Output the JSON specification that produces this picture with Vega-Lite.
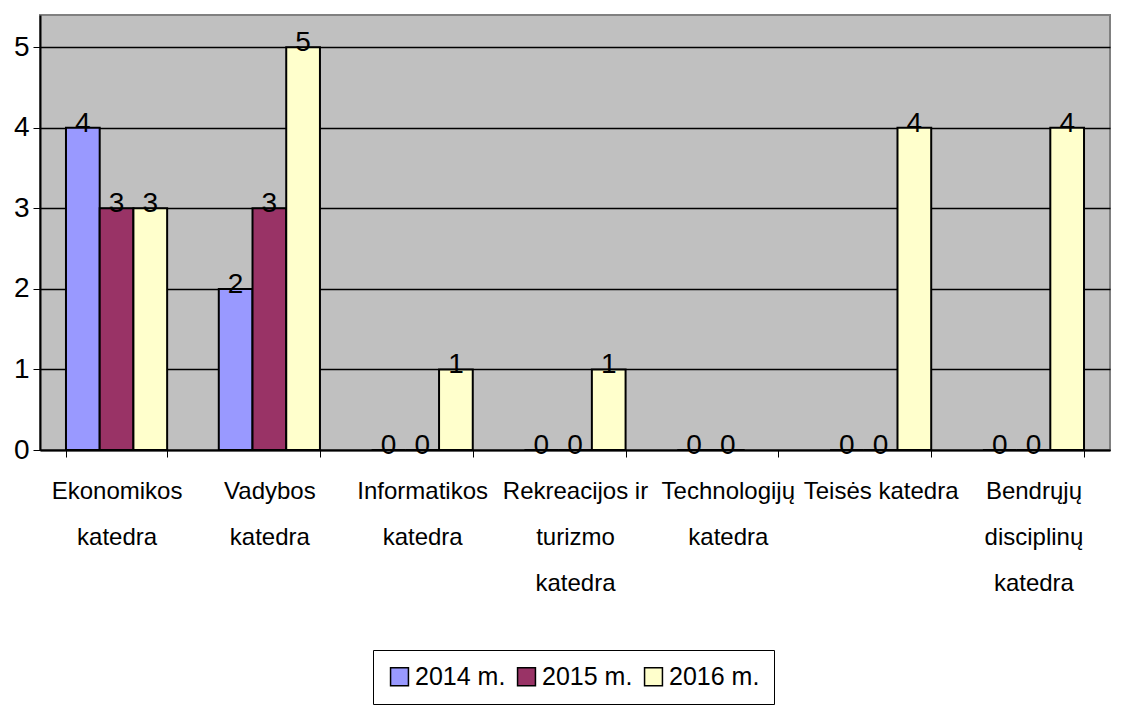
{
  "$schema": "https://vega.github.io/schema/vega-lite/v6.json",
  "width": 1070,
  "height": 435,
  "autosize": {"type": "none"},
  "padding": {"left": 40, "top": 15, "right": 11, "bottom": 255},
  "background": "white",
  "config": {
    "font": "Liberation Sans Narrow, Arial Narrow, Liberation Sans, sans-serif",
    "view": {"fill": "#C0C0C0", "stroke": "#808080", "strokeWidth": 2}
  },
  "data": {
    "values": [
      {"katedra": "Ekonomikos|katedra", "metai": "2014 m.", "n": 4},
      {"katedra": "Ekonomikos|katedra", "metai": "2015 m.", "n": 3},
      {"katedra": "Ekonomikos|katedra", "metai": "2016 m.", "n": 3},
      {"katedra": "Vadybos|katedra", "metai": "2014 m.", "n": 2},
      {"katedra": "Vadybos|katedra", "metai": "2015 m.", "n": 3},
      {"katedra": "Vadybos|katedra", "metai": "2016 m.", "n": 5},
      {"katedra": "Informatikos|katedra", "metai": "2014 m.", "n": 0},
      {"katedra": "Informatikos|katedra", "metai": "2015 m.", "n": 0},
      {"katedra": "Informatikos|katedra", "metai": "2016 m.", "n": 1},
      {"katedra": "Rekreacijos ir|turizmo|katedra", "metai": "2014 m.", "n": 0},
      {"katedra": "Rekreacijos ir|turizmo|katedra", "metai": "2015 m.", "n": 0},
      {"katedra": "Rekreacijos ir|turizmo|katedra", "metai": "2016 m.", "n": 1},
      {"katedra": "Technologijų|katedra", "metai": "2014 m.", "n": 0},
      {"katedra": "Technologijų|katedra", "metai": "2015 m.", "n": 0},
      {"katedra": "Teisės katedra", "metai": "2014 m.", "n": 0},
      {"katedra": "Teisės katedra", "metai": "2015 m.", "n": 0},
      {"katedra": "Teisės katedra", "metai": "2016 m.", "n": 4},
      {"katedra": "Bendrųjų|disciplinų|katedra", "metai": "2014 m.", "n": 0},
      {"katedra": "Bendrųjų|disciplinų|katedra", "metai": "2015 m.", "n": 0},
      {"katedra": "Bendrųjų|disciplinų|katedra", "metai": "2016 m.", "n": 4}
    ]
  },
  "encoding": {
    "x": {
      "field": "katedra",
      "type": "nominal",
      "sort": null,
      "scale": {"paddingInner": 0.338, "paddingOuter": 0.17},
      "axis": {
        "title": null,
        "labelAngle": 0,
        "labelExpr": "split(datum.label, '|')",
        "labelFontSize": 24,
        "labelLineHeight": 46,
        "labelColor": "black",
        "labelPadding": 22,
        "tickBand": "extent",
        "tickSize": 7,
        "tickColor": "black",
        "domainColor": "black",
        "domainWidth": 2,
        "labelLimit": 200
      }
    },
    "xOffset": {"field": "metai", "type": "nominal", "sort": ["2014 m.", "2015 m.", "2016 m."]},
    "y": {
      "field": "n",
      "type": "quantitative",
      "scale": {"domain": [0, 5.4], "nice": false},
      "axis": {
        "title": null,
        "values": [0, 1, 2, 3, 4, 5],
        "labelFontSize": 28,
        "labelColor": "black",
        "labelPadding": 4,
        "tickSize": 7,
        "tickColor": "black",
        "domainColor": "black",
        "domainWidth": 2,
        "grid": true,
        "gridColor": "black",
        "gridWidth": 1.5
      }
    }
  },
  "layer": [
    {
      "mark": {"type": "bar", "stroke": "black", "strokeWidth": 2},
      "encoding": {
        "color": {
          "field": "metai",
          "type": "nominal",
          "scale": {"domain": ["2014 m.", "2015 m.", "2016 m."], "range": ["#9999FF", "#993366", "#FFFFCC"]},
          "legend": {
            "title": null,
            "orient": "none",
            "direction": "horizontal",
            "legendX": 333,
            "legendY": 635,
            "strokeColor": "black",
            "fillColor": "white",
            "padding": 14,
            "labelFontSize": 25,
            "labelColor": "black",
            "symbolType": "square",
            "symbolSize": 320,
            "symbolStrokeColor": "black",
            "symbolStrokeWidth": 1.5,
            "columnPadding": 8,
            "labelOffset": 3
          }
        }
      }
    },
    {
      "mark": {"type": "text", "fontSize": 28, "baseline": "bottom", "dy": 10, "color": "black"},
      "encoding": {"text": {"field": "n", "type": "quantitative"}}
    }
  ]
}
